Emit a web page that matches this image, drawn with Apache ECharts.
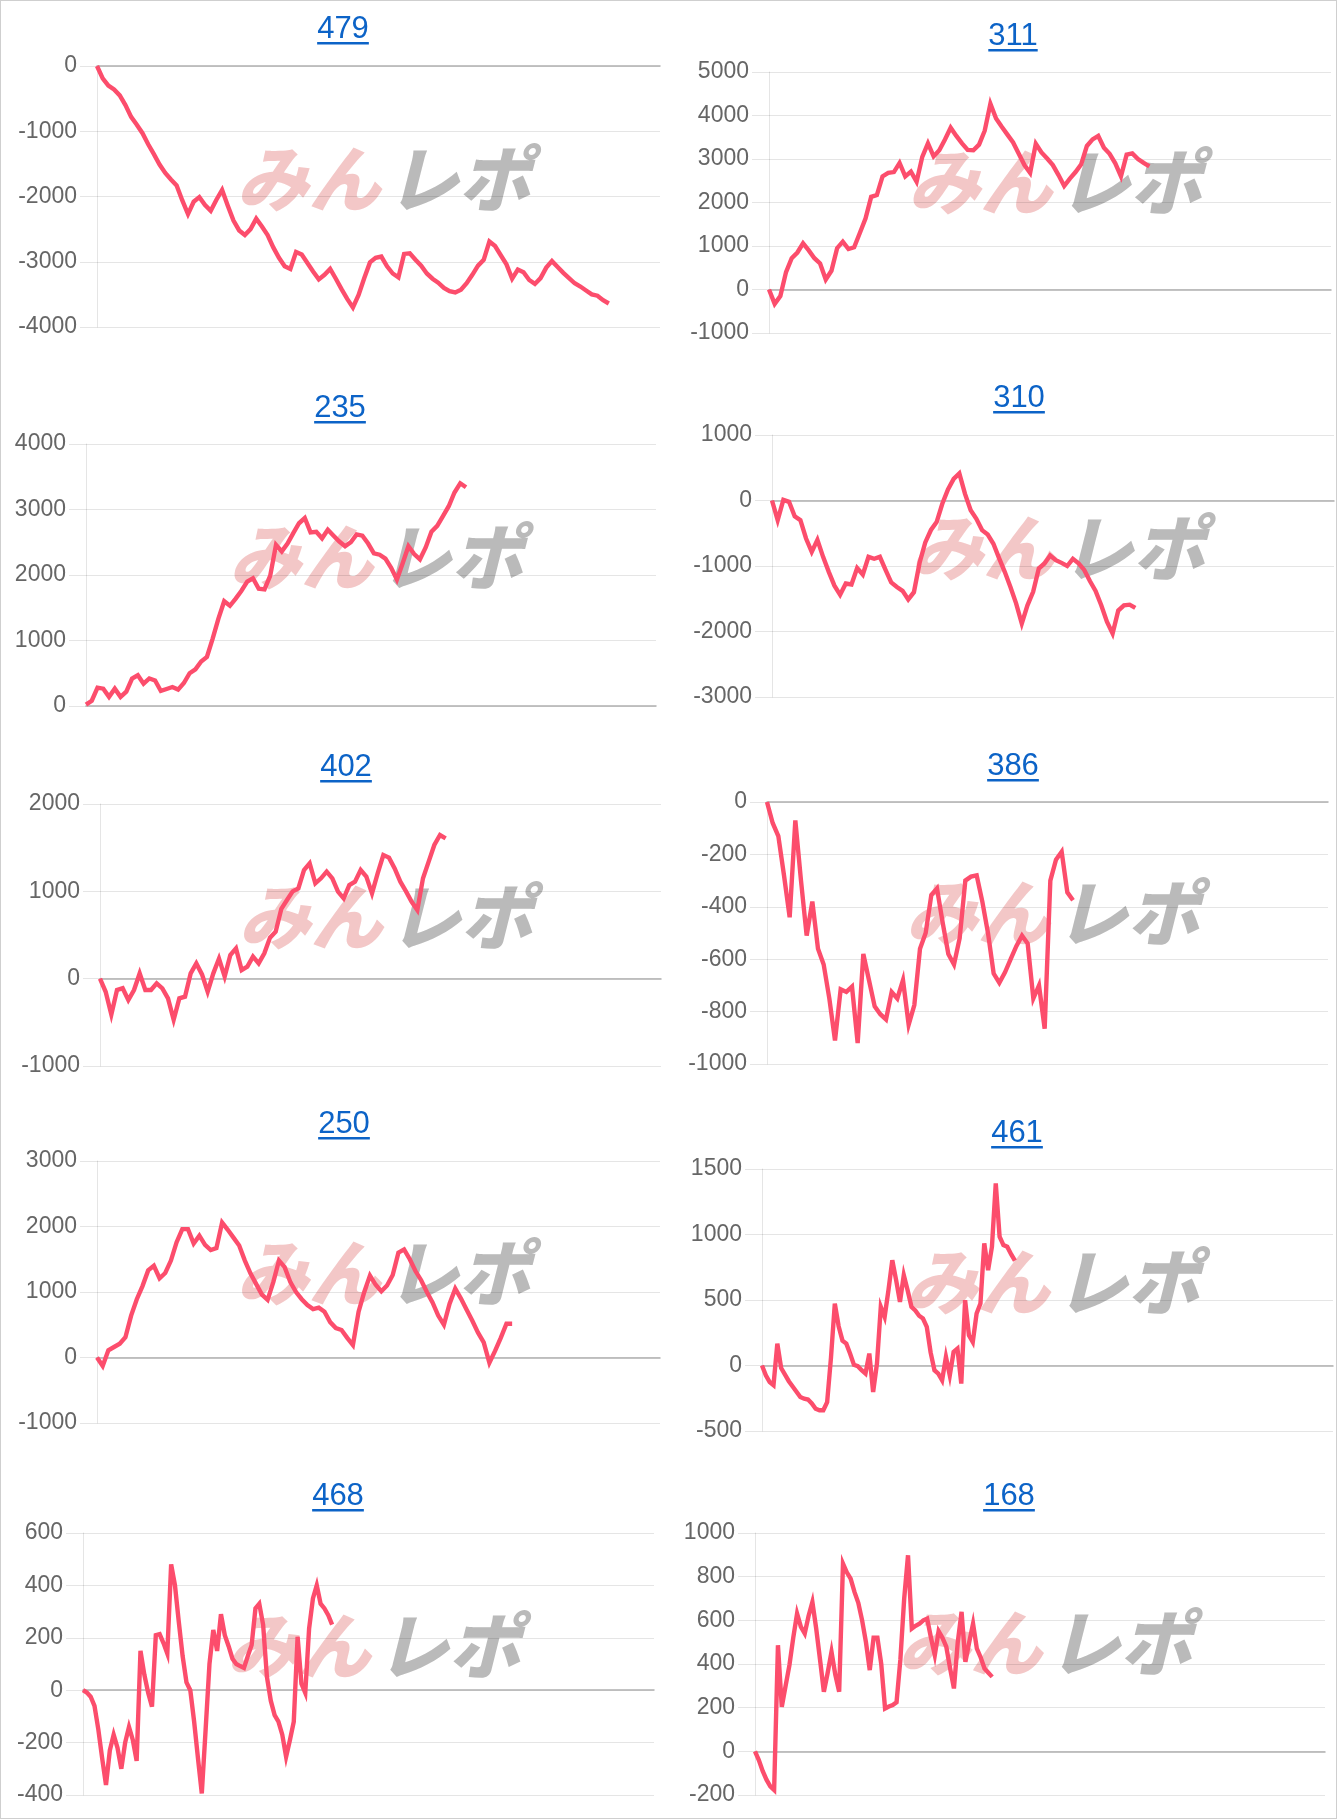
<!DOCTYPE html>
<html><head><meta charset="utf-8">
<script src="https://cdn.jsdelivr.net/npm/echarts@6/dist/echarts.min.js"></script>
<style>
html,body{margin:0;padding:0;background:#fff;}
#c{width:1337px;height:1820px;position:absolute;left:0;top:0;}
#frame{position:absolute;left:0;top:0;width:1337px;height:1819px;box-sizing:border-box;border:1px solid #cfcfcf;pointer-events:none;}
</style></head><body>
<div id="c"></div>
<div id="frame"></div>
<script>
// ---- data ----
const titles = ['479','311','235','310','402','386','250','461','468','168'];
const s479 = [0,-190,-300,-360,-450,-600,-780,-900,-1030,-1200,
 -1350,-1510,-1640,-1740,-1830,-2060,-2270,-2080,-2010,-2130,
 -2220,-2050,-1900,-2140,-2370,-2520,-2590,-2500,-2340,-2460,
 -2590,-2780,-2940,-3070,-3110,-2850,-2890,-3020,-3150,-3270,
 -3200,-3110,-3260,-3420,-3570,-3700,-3510,-3250,-3010,-2940,
 -2920,-3070,-3180,-3240,-2880,-2870,-2970,-3060,-3180,-3260,
 -3320,-3400,-3450,-3470,-3430,-3330,-3200,-3060,-2970,-2690,
 -2760,-2900,-3040,-3260,-3120,-3160,-3280,-3340,-3250,-3090,
 -2990,-3080,-3170,-3250,-3330,-3380,-3440,-3500,-3520,-3590,-3640];
const s311 = [0,-330,-150,400,720,850,1060,900,720,600,
 230,430,950,1100,930,970,1300,1630,2130,2170,
 2600,2680,2700,2910,2600,2710,2480,3050,3360,3060,
 3200,3450,3720,3530,3360,3210,3200,3330,3650,4270,
 3930,3740,3560,3380,3120,2860,2680,3350,3150,3010,
 2860,2630,2380,2550,2700,2880,3300,3450,3530,3260,
 3120,2900,2600,3100,3130,3000,2910,2830];
const s235 = [20,80,280,265,140,265,140,220,420,470,
 340,420,390,230,260,290,250,350,500,560,
 680,750,1030,1335,1600,1530,1640,1760,1900,1950,
 1790,1780,1990,2460,2360,2480,2640,2790,2870,2650,
 2660,2560,2690,2600,2510,2440,2500,2620,2600,2480,
 2330,2310,2250,2110,1930,2180,2440,2320,2240,2420,
 2660,2750,2900,3050,3260,3400,3340];
const s310 = [0,-300,10,-20,-240,-300,-580,-784,-600,-860,
 -1089,-1300,-1440,-1268,-1283,-1030,-1130,-860,-890,-860,
 -1060,-1250,-1320,-1380,-1510,-1400,-950,-640,-450,-330,
 -50,170,330,414,100,-150,-280,-452,-520,-660,
 -880,-1089,-1320,-1570,-1879,-1600,-1395,-1038,-962,-840,
 -911,-952,-1000,-890,-960,-1060,-1230,-1380,-1600,-1850,
 -2030,-1680,-1600,-1590,-1640];
const s402 = [0,-150,-410,-130,-110,-244,-130,60,-130,-130,
 -54,-111,-225,-470,-225,-206,60,175,49,-149,
 61,230,23,271,347,99,137,252,175,290,
 470,538,800,901,1000,1034,1244,1321,1092,1149,
 1225,1149,996,920,1072,1111,1244,1168,977,1206,
 1416,1386,1263,1111,1000,880,786,1150,1340,1531,
 1645,1607];
const s386 = [0,-80,-130,-280,-440,-70,-300,-510,-380,-560,
 -620,-750,-910,-715,-725,-705,-920,-580,-680,-780,
 -810,-830,-725,-750,-680,-850,-775,-560,-500,-355,
 -330,-460,-580,-620,-520,-300,-285,-280,-380,-500,
 -655,-690,-650,-600,-550,-510,-540,-750,-700,-865,
 -300,-220,-190,-345,-375];
const s250 = [0,-130,110,160,210,310,640,890,1090,1330,
 1400,1210,1290,1480,1760,1960,1960,1740,1860,1720,
 1640,1670,2060,1950,1830,1710,1480,1280,1120,960,
 880,1150,1480,1380,1150,1000,890,800,740,760,
 700,540,450,420,300,190,700,1000,1250,1110,
 1010,1100,1260,1600,1650,1500,1320,1180,1000,840,
 640,500,820,1050,900,730,560,380,230,-80,
 100,300,515,515];
const s461 = [0,-75,-126,-150,167,-20,-70,-120,-160,-200,
 -240,-253,-260,-290,-330,-342,-342,-280,60,473,
 300,190,167,90,5,-5,-36,-62,91,-202,
 15,448,371,575,804,652,486,690,575,448,
 420,380,359,295,100,-36,-62,-113,66,-75,
 104,129,-138,499,231,180,397,473,932,728,
 906,1390,983,919,906,850,800];
const s468 = [0,-9,-25,-60,-150,-260,-362,-230,-170,-220,
 -300,-200,-140,-190,-270,150,60,-10,-63,210,
 214,180,140,480,400,260,130,30,0,-120,
 -260,-394,-150,100,230,150,290,210,168,120,
 100,92,85,130,172,312,330,250,50,-40,
 -95,-120,-170,-254,-190,-120,204,25,-10,235,
 350,400,330,312,286,250];
const s168 = [0,-40,-90,-130,-160,-177,486,204,300,395,
 520,631,570,540,620,684,562,420,273,360,
 456,350,273,860,820,791,730,680,600,500,
 372,520,520,400,196,205,212,225,420,700,
 898,562,575,585,600,608,520,440,550,520,
 480,380,288,500,639,410,500,585,470,430,
 379,360,341];
const seriesData = [s479,s311,s235,s310,s402,s386,s250,s461,s468,s168];
// y axis ranges: [min, max, interval]
const yRanges = [[-4000,0,1000],[-1000,5000,1000],[0,4000,1000],[-3000,1000,1000],[-1000,2000,1000],
 [-1000,0,200],[-1000,3000,1000],[-500,1500,500],[-400,600,200],[-200,1000,200]];
// number of x categories per panel (no x labels shown)
const xCounts = [100,100,100,100,100,100,100,150,150,150];

// ---- layout (pixels) ----
const layout = [
 {l:97,t:66,w:563,h:261, tx:343, ty:29, wy:179},
 {l:769,t:72,w:562,h:261, tx:1013, ty:36, wy:182},
 {l:86,t:444,w:570,h:262, tx:340, ty:408, wy:557},
 {l:772,t:435,w:562,h:262, tx:1019, ty:398, wy:548},
 {l:100,t:804,w:561,h:262, tx:346, ty:767, wy:917},
 {l:767,t:802,w:561,h:262, tx:1013, ty:766, wy:913},
 {l:97,t:1161,w:563,h:262, tx:344, ty:1124, wy:1273},
 {l:762,t:1169,w:571,h:262, tx:1017, ty:1133, wy:1282},
 {l:83,t:1533,w:571,h:262, tx:338, ty:1496, wy:1646},
 {l:755,t:1533,w:570,h:262, tx:1009, ty:1496, wy:1643}
];

const LINE = '#fc4d6c', GRID = 'rgba(0,0,0,0.1)', ZERO = '#b0b0b0', LINK = '#0c63c7';
const TFONT = '31px "Liberation Sans", Arial, sans-serif';
const mctx = document.createElement('canvas').getContext('2d');
mctx.font = TFONT;

const grids=[], xAxes=[], yAxes=[], series=[], graphics=[];
layout.forEach((p,i)=>{
  grids.push({left:p.l, top:p.t, width:p.w, height:p.h, containLabel:false});
  const cats = Array.from({length:xCounts[i]},(_,k)=>String(k));
  xAxes.push({type:'category', gridIndex:i, data:cats, boundaryGap:false,
    axisLabel:{show:false}, axisTick:{show:false}, splitLine:{show:false},
    axisLine:{show:true, onZero:true, lineStyle:{color:ZERO, width:1.5}}});
  const r = yRanges[i];
  yAxes.push({type:'value', gridIndex:i, min:r[0], max:r[1], interval:r[2],
    axisLine:{show:true, lineStyle:{color:GRID, width:1}},
    axisTick:{show:true, length:17, lineStyle:{color:GRID, width:1}},
    axisLabel:{color:'#666', fontSize:23, margin:20, fontFamily:'"Liberation Sans", Arial, sans-serif',
      formatter:(v)=>String(v)},
    splitLine:{show:true, lineStyle:{color:GRID, width:1}}});
  series.push({type:'line', xAxisIndex:i, yAxisIndex:i, data:seriesData[i],
    showSymbol:false, symbol:'none', z:5,
    lineStyle:{color:LINE, width:4.4, join:'miter', miterLimit:6, cap:'butt'}});
  // title text + underline
  const tw = mctx.measureText(titles[i]).width;
  graphics.push({type:'text', x:p.tx, y:p.ty, z:10,
    style:{text:titles[i], fill:LINK, font:TFONT, textAlign:'center', textVerticalAlign:'middle'}});
  graphics.push({type:'rect', z:10, shape:{x:p.tx - tw/2, y:p.ty + 13, width:tw, height:2.4},
    style:{fill:LINK}});
  // watermark
  const cx = p.l + p.w/2;
  graphics.push({type:'text', x:cx+2, y:p.wy, z:0,
    style:{text:'みん', fill:'rgba(222,100,100,0.36)', font:'italic 900 72px "Noto Sans CJK JP"',
      textAlign:'right', textVerticalAlign:'middle'}});
  graphics.push({type:'text', x:cx+8, y:p.wy, z:0,
    style:{text:'レポ', fill:'rgba(140,140,140,0.6)', font:'italic 900 72px "Noto Sans CJK JP"',
      textAlign:'left', textVerticalAlign:'middle'}});
});

const chart = echarts.init(document.getElementById('c'), null, {renderer:'canvas'});
chart.setOption({
  animation:false,
  backgroundColor:'#fff',
  grid:grids, xAxis:xAxes, yAxis:yAxes, series:series,
  graphic:{elements:graphics}
});
</script>
</body></html>
